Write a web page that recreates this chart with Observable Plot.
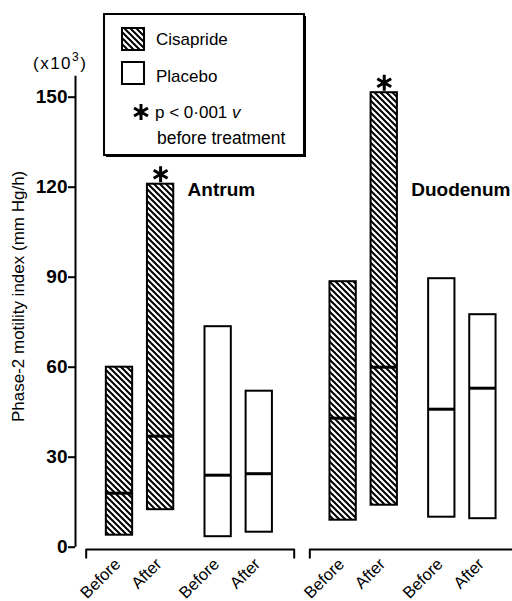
<!DOCTYPE html>
<html><head><meta charset="utf-8">
<script src="https://cdn.jsdelivr.net/npm/d3@7"></script>
<script src="https://cdn.jsdelivr.net/npm/@observablehq/plot@0.6"></script>
<style>
body{margin:0;background:#fff;}
#wrap{position:relative;width:512px;height:601px;font-family:"Liberation Sans",Arial,Helvetica,sans-serif;}
#wrap svg{position:absolute;left:0;top:0;}
</style></head><body><div id="wrap"></div>
<script>
const sites = ["Antrum", "Duodenum"];
const drugs = ["Cisapride", "Placebo"];
const times = ["Before", "After"];
const lows = [4, 12.5, 3.5, 5, 9, 14, 10, 9.5];
const highs = [60, 121, 73.5, 52, 88.5, 151.5, 89.5, 77.5];
const medians = [18, 37, 24, 24.5, 43, 60, 46, 53];
const significant = [false, true, false, false, false, true, false, false];
const yTicks = [0, 30, 60, 90, 120, 150];
const yLabel = "Phase-2 motility index (mm Hg/h)";
const unitLabel = "(x10";
const unitExp = "3";
const legendLines = ["Cisapride", "Placebo", "p < 0·001 ", "v", "before treatment"];

// layout constants (slot units)
const SITE_STEP = 5.44, DRUG_STEP = 2.4, HALF = 0.32;
const X_DOMAIN = [-1.07, 9.56];
const Y_DOMAIN = [0, 157];
const FONT = '"Liberation Sans", Arial, Helvetica, sans-serif';

const rows = [];
let k = 0;
sites.forEach((site, si) => drugs.forEach((drug, di) => times.forEach((time, ti) => {
  rows.push({site, drug, time, pos: si * SITE_STEP + di * DRUG_STEP + ti,
    low: lows[k], high: highs[k], median: medians[k], sig: significant[k]});
  k++;
})));

const brackets = sites.flatMap((site, si) => {
  const a = si * SITE_STEP - 0.81, b = si * SITE_STEP + DRUG_STEP + 1 + 0.85;
  return [[a, -3.5], [a, -0.8], [b, -0.8], [b, -3.5]].map(([x, y]) => ({site, x, y}));
});

const chart = Plot.plot({
  width: 512, height: 601,
  marginLeft: 75, marginRight: 0, marginTop: 75.7, marginBottom: 54.3,
  x: {domain: X_DOMAIN, axis: null},
  y: {domain: Y_DOMAIN},
  style: {fontFamily: FONT, background: "white", color: "black", overflow: "visible"},
  marks: [
    Plot.ruleX([X_DOMAIN[0]], {y1: Y_DOMAIN[0], y2: Y_DOMAIN[1], strokeWidth: 2}),
    Plot.axisY({ticks: yTicks, tickSize: 7, tickPadding: 1, fontSize: 19, fontWeight: "bold", strokeWidth: 2, label: null}),
    Plot.text([yLabel], {frameAnchor: "left", y: 83.6, dx: -57, rotate: -90, textAnchor: "middle", lineAnchor: "middle", fontSize: 17, text: d => d}),
    Plot.rect(rows.filter(d => d.drug === drugs[0]), {x1: d => d.pos - HALF, x2: d => d.pos + HALF, y1: "low", y2: "high", fill: "url(#hatch)", stroke: "black", strokeWidth: 2}),
    Plot.rect(rows.filter(d => d.drug === drugs[1]), {x1: d => d.pos - HALF, x2: d => d.pos + HALF, y1: "low", y2: "high", fill: "white", stroke: "black", strokeWidth: 2}),
    Plot.ruleY(rows, {y: "median", x1: d => d.pos - HALF, x2: d => d.pos + HALF, strokeWidth: 3}),
    Plot.dot(rows.filter(d => d.sig), {x: "pos", y: "high", dy: -10, symbol: "asterisk", r: 7.6, stroke: "black", strokeWidth: 3}),
    Plot.text(sites, {x: (s, i) => i * SITE_STEP + 1, y: 119, dx: 27, text: d => d, textAnchor: "start", fontSize: 19, fontWeight: "bold"}),
    Plot.text(rows, {x: "pos", y: 0, dx: 2, dy: 18, text: "time", rotate: -45, textAnchor: "end", lineAnchor: "bottom", fontSize: 16.5}),
    Plot.line(brackets, {x: "x", y: "y", z: "site", strokeWidth: 2})
  ]
});

function addHatch(sel, id) {
  const pat = sel.append("defs").append("pattern").attr("id", id)
    .attr("patternUnits", "userSpaceOnUse").attr("width", 6).attr("height", 6);
  pat.append("rect").attr("width", 6).attr("height", 6).attr("fill", "white");
  pat.append("path").attr("d", "M-3,3 L3,9 M0,0 L6,6 M3,-3 L9,3")
    .attr("stroke", "black").attr("stroke-width", 2);
}
addHatch(d3.select(chart), "hatch");
document.getElementById("wrap").appendChild(chart);

// overlay: legend and unit label
const ov = d3.select("#wrap").append("svg").attr("width", 512).attr("height", 170)
  .style("font-family", FONT).style("pointer-events", "none");
addHatch(ov, "hatch2");
ov.append("rect").attr("x", 106).attr("y", 16).attr("width", 200).attr("height", 141).attr("fill", "black");
ov.append("rect").attr("x", 104).attr("y", 14).attr("width", 200).attr("height", 141)
  .attr("fill", "white").attr("stroke", "black").attr("stroke-width", 2);
ov.append("rect").attr("x", 122).attr("y", 28).attr("width", 22).attr("height", 22)
  .attr("fill", "url(#hatch2)").attr("stroke", "black").attr("stroke-width", 2);
ov.append("rect").attr("x", 122).attr("y", 62).attr("width", 22).attr("height", 22)
  .attr("fill", "white").attr("stroke", "black").attr("stroke-width", 2);
ov.append("text").attr("x", 156).attr("y", 45).attr("font-size", 17).text(legendLines[0]);
ov.append("text").attr("x", 156).attr("y", 82).attr("font-size", 17).text(legendLines[1]);
const pt = ov.append("text").attr("x", 155).attr("y", 118).attr("font-size", 17);
pt.append("tspan").text(legendLines[2]);
pt.append("tspan").attr("font-style", "italic").text(legendLines[3]);
ov.append("text").attr("x", 157).attr("y", 144).attr("font-size", 17.5).text(legendLines[4]);
ov.append("path").attr("transform", "translate(141,112)")
  .attr("d", d3.symbol(d3.symbolAsterisk, Math.PI * 7.6 * 7.6)())
  .attr("fill", "none").attr("stroke", "black").attr("stroke-width", 3);
const ut = ov.append("text").attr("x", 33).attr("y", 69).attr("font-size", 17).attr("letter-spacing", 1.5);
ut.append("tspan").text(unitLabel);
ut.append("tspan").attr("font-size", 12).attr("dy", -8).text(unitExp);
ut.append("tspan").attr("dy", 8).text(")");
</script></body></html>
